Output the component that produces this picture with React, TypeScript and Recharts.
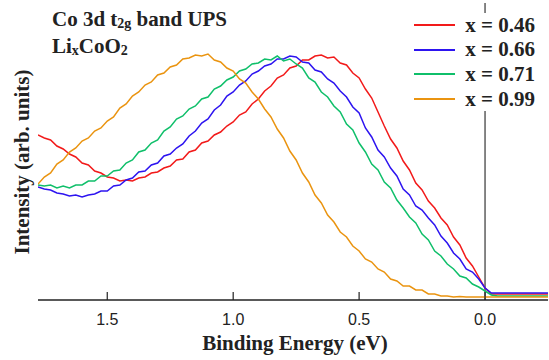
import React from "react";
import { LineChart, Line, XAxis, YAxis, ReferenceLine } from "recharts";

// binding energy grid (eV), high to low
const energy = [
  1.775, 1.75, 1.725, 1.7, 1.675, 1.65, 1.625, 1.6, 1.575, 1.55, 1.525, 1.5, 1.475, 1.45,
  1.425, 1.4, 1.375, 1.35, 1.325, 1.3, 1.275, 1.25, 1.225, 1.2, 1.175, 1.15, 1.125, 1.1,
  1.075, 1.05, 1.025, 1.0, 0.975, 0.95, 0.925, 0.9, 0.875, 0.85, 0.825, 0.8, 0.775, 0.75,
  0.725, 0.7, 0.675, 0.65, 0.625, 0.6, 0.575, 0.55, 0.525, 0.5, 0.475, 0.45, 0.425, 0.4,
  0.375, 0.35, 0.325, 0.3, 0.275, 0.25, 0.225, 0.2, 0.175, 0.15, 0.125, 0.1, 0.075, 0.05,
  0.025, 0, -0.025, -0.05, -0.075, -0.1, -0.125, -0.15, -0.175, -0.2, -0.225, -0.25,
];

// UPS intensity (arb. units) per Li content
const x046 = [
  165, 162, 160, 154, 151, 146, 143, 137, 135, 129, 127, 123, 122, 119, 120, 119, 122, 123,
  127, 128, 132, 134, 140, 141, 148, 150, 157, 159, 165, 168, 174, 178, 185, 188, 196, 201,
  209, 214, 222, 225, 232, 234, 240, 240, 244, 245, 242, 243, 237, 235, 227, 222, 211, 202,
  188, 174, 161, 152, 139, 130, 117, 110, 99, 92, 82, 75, 63, 55, 42, 34, 23, 12, 6, 6,
  6, 6, 6, 6, 6, 6, 6, 6,
];
const x066 = [
  113, 111, 110, 107, 106, 104, 105, 103, 105, 106, 109, 109, 114, 115, 120, 122, 128, 129,
  135, 137, 144, 146, 152, 156, 164, 169, 177, 181, 190, 195, 204, 208, 215, 219, 226, 229,
  234, 236, 241, 241, 244, 243, 238, 237, 230, 228, 221, 217, 209, 203, 193, 187, 172, 163,
  150, 143, 132, 124, 111, 105, 94, 90, 82, 75, 64, 57, 47, 41, 31, 28, 21, 12, 7, 7, 7, 7,
  7, 7, 7, 7, 7, 7,
];
const x071 = [
  115, 114, 115, 112, 114, 112, 115, 115, 119, 119, 124, 124, 129, 130, 137, 140, 148, 150,
  157, 160, 169, 173, 181, 184, 191, 194, 201, 203, 211, 214, 220, 223, 229, 231, 236, 237,
  241, 240, 244, 239, 241, 236, 232, 222, 218, 208, 203, 194, 188, 176, 170, 157, 148, 136,
  130, 118, 112, 100, 92, 83, 77, 66, 60, 49, 44, 36, 31, 24, 22, 16, 13, 9, 5, 4, 4, 4, 4,
  4, 4, 4, 4, 4,
];
const x099 = [
  116, 123, 127, 136, 140, 148, 152, 159, 162, 169, 172, 179, 183, 192, 196, 204, 208, 215,
  218, 225, 227, 233, 235, 241, 242, 245, 244, 246, 240, 238, 232, 229, 221, 217, 208, 201,
  191, 183, 171, 162, 149, 140, 127, 118, 105, 97, 85, 78, 68, 63, 54, 49, 41, 38, 31, 28,
  21, 19, 14, 14, 10, 10, 6, 6, 4, 4, 3, 3.5, 3, 3, 3, 3, 3, 3, 3, 3, 3, 3, 3, 3, 3, 3,
];

const series = [
  { key: "x046", name: "x = 0.46", color: "#f21a1a", values: x046 },
  { key: "x066", name: "x = 0.66", color: "#2d14f0", values: x066 },
  { key: "x071", name: "x = 0.71", color: "#0fbf6a", values: x071 },
  { key: "x099", name: "x = 0.99", color: "#ea9410", values: x099 },
];

const xTicks = [1.5, 1.0, 0.5, 0.0];

const data = energy.map((e, i) => {
  const row: Record<string, number> = { e };
  series.forEach((s) => (row[s.key] = s.values[i]));
  return row;
});

const AXIS = "#222";
const SERIF = '"Liberation Serif", "Times New Roman", serif';
const SANS = '"Liberation Sans", Arial, sans-serif';

const BottomTick = ({ x, y, payload }: any) => (
  <g>
    <line x1={x} x2={x} y1={y} y2={y - 8} stroke={AXIS} strokeWidth={1.2} />
    <text x={x} y={y + 25} textAnchor="middle" fontFamily={SANS} fontSize={16} fill="#222">
      {Number(payload.value).toFixed(1)}
    </text>
  </g>
);

const TopTick = ({ x, y }: any) => (
  <line x1={x} x2={x} y1={y} y2={y + 8} stroke={AXIS} strokeWidth={1.2} />
);

const sub = { fontSize: 14, position: "relative" as const, top: 2 };

export default function App() {
  return (
    <div style={{ position: "absolute", left: 0, top: 0, width: 549, height: 360, background: "#fff" }}>
      <LineChart width={549} height={360} data={data} margin={{ top: 3, right: 1, left: 38, bottom: 0 }}>
        <XAxis
          xAxisId="bottom"
          dataKey="e"
          type="number"
          domain={[-0.25, 1.775]}
          allowDataOverflow
          reversed
          ticks={xTicks}
          height={60}
          tickSize={0}
          tickMargin={0}
          tickLine={false}
          tick={<BottomTick />}
          axisLine={{ stroke: AXIS, strokeWidth: 1.5 }}
        />
        <XAxis
          xAxisId="top"
          orientation="top"
          dataKey="e"
          type="number"
          domain={[-0.25, 1.775]}
          allowDataOverflow
          reversed
          ticks={xTicks}
          height={0}
          tickSize={0}
          tickMargin={0}
          tickLine={false}
          tick={<TopTick />}
          axisLine={{ stroke: AXIS, strokeWidth: 1.5 }}
        />
        <YAxis
          type="number"
          domain={[0, 297]}
          allowDataOverflow
          width={0}
          tick={false}
          tickLine={false}
          axisLine={{ stroke: AXIS, strokeWidth: 1.5 }}
        />
        <ReferenceLine xAxisId="bottom" x={0} stroke="#444" strokeWidth={1.3} />
        {series.map((s) => (
          <Line
            key={s.key}
            xAxisId="bottom"
            dataKey={s.key}
            name={s.name}
            type="linear"
            stroke={s.color}
            strokeWidth={1.5}
            dot={false}
            isAnimationActive={false}
          />
        ))}
      </LineChart>

      {/* title block */}
      <div style={{ position: "absolute", left: 52, top: 7, font: `bold 21px ${SERIF}`, color: "#222", lineHeight: "25px", whiteSpace: "nowrap" }}>
        <div>
          Co 3d t<span style={sub}>2g</span> band UPS
        </div>
        <div>
          Li<span style={sub}>x</span>CoO<span style={sub}>2</span>
        </div>
      </div>

      {/* legend, white box hides the Fermi line behind it */}
      <div style={{ position: "absolute", right: 12, top: 13, paddingLeft: 8, paddingRight: 2, background: "#fff" }}>
        {series.map((s) => (
          <div key={s.key} style={{ display: "flex", alignItems: "center", height: 24.6 }}>
            <span style={{ display: "inline-block", width: 41, height: 2, background: s.color, marginRight: 10 }} />
            <span style={{ font: `bold 21px ${SERIF}`, color: "#222", lineHeight: "21px", whiteSpace: "nowrap" }}>{s.name}</span>
          </div>
        ))}
      </div>

      {/* axis titles */}
      <div
        style={{
          position: "absolute",
          left: 295,
          top: 343,
          transform: "translate(-50%, -50%)",
          font: `bold 21px ${SERIF}`,
          color: "#222",
          whiteSpace: "nowrap",
        }}
      >
        Binding Energy (eV)
      </div>
      <div
        style={{
          position: "absolute",
          left: 22,
          top: 162,
          transform: "translate(-50%, -50%) rotate(-90deg)",
          font: `bold 21px ${SERIF}`,
          color: "#222",
          whiteSpace: "nowrap",
        }}
      >
        Intensity (arb. units)
      </div>
    </div>
  );
}
